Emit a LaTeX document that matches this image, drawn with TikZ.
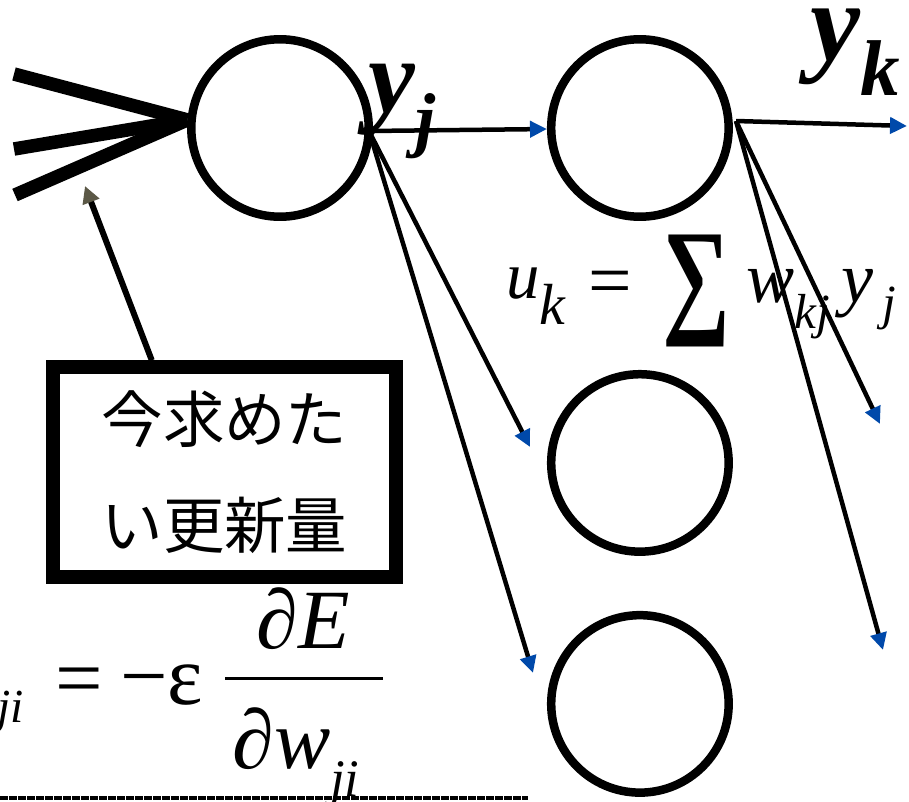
\documentclass[tikz,border=0pt]{standalone}
\usepackage{fontspec}
\setmainfont{Liberation Serif}
\newfontfamily\jpfont{Noto Sans CJK JP}
\usepackage{graphicx}
\usepackage{tikz}
\usetikzlibrary{arrows.meta,positioning}
\definecolor{tipblue}{HTML}{0049AA}
\definecolor{tipgray}{HTML}{5B5846}
\newcommand{\fs}[1]{\fontsize{#1}{#1}\selectfont}

\begin{document}
\begin{tikzpicture}[x=0.02cm,y=-0.02cm,
node distance=3.48cm,
neuron/.style={circle,draw,line width=0.17cm,minimum size=3.55cm,inner sep=0pt},
note/.style={draw,line width=0.27cm,minimum width=6.86cm,minimum height=4.2cm,
align=center,font=\jpfont\fontsize{35}{60}\selectfont,inner sep=0pt},
lbl/.style={inner sep=0pt,anchor=base west},
inp/.style={line width=0.27cm},
arr/.style={-{Triangle[length=0.34cm,width=0.32cm,color=tipblue]},line width=0.09cm},
back/.style={-{Triangle[length=0.34cm,width=0.34cm,color=tipgray]},line width=0.12cm}
]
\useasboundingbox (0,0) rectangle (909,801);
\clip (0,0) rectangle (909,801);
\node[neuron] (hid) at (280,128) {};
\node[neuron,right=of hid]          (out1) {};
\node[neuron,below=2.98cm of out1]  (out2) {};
\node[neuron,below=1.1cm of out2]   (out3) {};
\node[note] (upd) at (224.5,472) {今求めた\\い更新量};
\coordinate (in1) at (14,74);
\coordinate (in2) at (14,149);
\coordinate (in3) at (15,195);
\coordinate (tgt) at (85,186);
\coordinate (jo) at (369,131);
\coordinate (ko) at (736,121);
\coordinate (yo) at (907,126);
\coordinate (a1) at (530,447);
\coordinate (a2) at (533,673);
\coordinate (b1) at (880,424);
\coordinate (b2) at (883,650);
\foreach \p in {in1,in2,in3}
\draw[inp] (\p) -- (hid.175);
\draw[back] ([xshift=2.11cm]upd.north west) -- (tgt);
\fill (jo) circle (0.12cm);
\foreach \a/\b in {jo/out1,jo/a1,jo/a2,ko/yo,ko/b1,ko/b2}
\draw[arr] (\a) -- (\b);
\node[lbl] (yj) at (368,112) {\fs{60}\bfseries\itshape y\raisebox{-18pt}{\fs{41}j}};
\node[lbl] (yk) at (810,60) {\fs{64}\bfseries\itshape y\raisebox{-20pt}{\fs{45}k}};
\node[lbl] (uk) at (506,298) {\fs{38}\itshape u\raisebox{-15pt}{\fs{33}k}};
\node[lbl] (eq1) at (588,306) {\fs{44}=};
\node[inner sep=0pt] (sig) at (696,291) {\resizebox*{1.36cm}{2.24cm}{\bfseries ∑}};
\node[lbl] (wy) at (746,302) {\fs{41}\itshape w\raisebox{-15pt}{\fs{28}kj}\,y\raisebox{-10pt}{\fs{28}\,j}};
\node[inner sep=0pt,anchor=base east] (dw) at (24,703) {\fs{48}Δ\itshape w\raisebox{-11pt}{\fs{27}ji}};
\node[lbl] (eq2) at (55,706) {\fs{48}=};
\node[lbl] (eps) at (120,704) {\fs{48}−ε};
\node[inner sep=0pt,anchor=base] (num) at (303,648) {\fs{48}∂\itshape E};
\coordinate (f1) at (225,678);
\coordinate (f2) at (383,678);
\draw[line width=0.06cm] (f1) -- (f2);
\node[lbl] (den) at (232,768) {\fs{48}∂\itshape w\raisebox{-16pt}{\fs{30}ji}};
\coordinate (s1) at (0,798);
\coordinate (s2) at (528,798);
\draw[line width=0.08cm,dash pattern=on 0.16cm off 0.02cm] (s1) -- (s2);
\end{tikzpicture}
\end{document}
